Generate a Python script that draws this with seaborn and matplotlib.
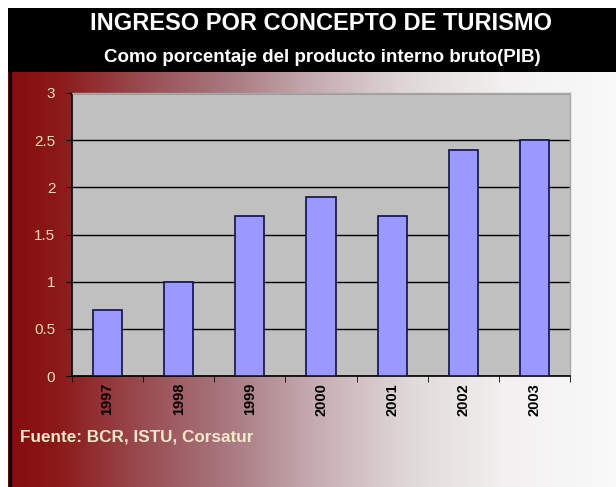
import matplotlib
matplotlib.use("Agg")
import matplotlib.pyplot as plt
from matplotlib.colors import LinearSegmentedColormap
import seaborn as sns
import numpy as np
import pandas as pd

years = ["1997", "1998", "1999", "2000", "2001", "2002", "2003"]
pct_pib = [0.7, 1.0, 1.7, 1.9, 1.7, 2.4, 2.5]
y_ticks = [0, 0.5, 1, 1.5, 2, 2.5, 3]
y_labels = ["0", "0.5", "1", "1.5", "2", "2.5", "3"]

title = "INGRESO POR CONCEPTO DE TURISMO"
subtitle = "Como porcentaje del producto interno bruto(PIB)"
source = "Fuente: BCR, ISTU, Corsatur"

sns.set_style("white")
plt.rcParams["font.family"] = ["Liberation Sans", "DejaVu Sans"]

W, H = 616, 487
fig = plt.figure(figsize=(W / 100, H / 100), dpi=100)
fig.patch.set_facecolor("white")

# background: black header band + red-to-white gradient
grad = LinearSegmentedColormap.from_list("bg", [
    (0.00, (0.52, 0.05, 0.05)),
    (0.08, (0.55, 0.10, 0.10)),
    (0.22, (0.60, 0.30, 0.32)),
    (0.36, (0.66, 0.47, 0.50)),
    (0.50, (0.77, 0.67, 0.69)),
    (0.66, (0.88, 0.85, 0.85)),
    (0.82, (0.95, 0.94, 0.94)),
    (1.00, (0.98, 0.98, 0.98)),
])
bg = fig.add_axes([8 / W, 0, 1 - 8 / W, (H - 72) / H])
bg.imshow(np.linspace(0, 1, 300)[None, :], cmap=grad, aspect="auto",
          extent=[0, 1, 0, 1])
bg.axvline(0.003, color="black", lw=2.5)
bg.set_axis_off()

hdr = fig.add_axes([8 / W, (H - 72) / H, 1 - 8 / W, 64 / H])
hdr.set_facecolor("black")
hdr.set_xticks([])
hdr.set_yticks([])
for s in hdr.spines.values():
    s.set_visible(False)

fig.text(321 / W, 1 - 24 / H, title, color="white", fontsize=17,
         fontweight="bold", ha="center", va="center")
fig.text(322 / W, 1 - 57 / H, subtitle, color="white", fontsize=13.5,
         fontweight="bold", ha="center", va="center")

# plot area
ax = fig.add_axes([72 / W, (H - 376) / H, (570 - 72) / W, (376 - 93) / H])
ax.set_facecolor("#C0C0C0")
df = pd.DataFrame({"year": years, "pct": pct_pib})
sns.barplot(data=df, x="year", y="pct", color="#9999FF", edgecolor="#10104a",
            linewidth=1.2, width=0.41, saturation=1, ax=ax, zorder=3)

ax.set_ylim(0, 3)
ax.set_xlim(-0.5, len(years) - 0.5)
ax.set_yticks(y_ticks)
ax.set_yticklabels(y_labels, color="#F0D9B0", fontsize=11)
ax.yaxis.grid(True, color="black", lw=1)
ax.set_axisbelow(True)
ax.set_xticks(range(len(years)))
ax.set_xticklabels(years, rotation=90, fontsize=10.5, fontweight="bold",
                   color="black")
ax.tick_params(axis="x", which="major", length=0, pad=5)
ax.set_xticks(np.arange(-0.5, len(years), 1), minor=True)
ax.tick_params(axis="x", which="minor", length=4, direction="out",
               color="black", bottom=True)
ax.tick_params(axis="y", length=4, direction="out", color="black",
               left=True, pad=8)
ax.set_xlabel("")
ax.set_ylabel("")
for side in ["left", "bottom"]:
    ax.spines[side].set_color("black")
    ax.spines[side].set_linewidth(1.2)
for side in ["top", "right"]:
    ax.spines[side].set_color("#a8a8a8")
    ax.spines[side].set_linewidth(1)

fig.text(20 / W, 1 - 437 / H, source, color="#F7E8CC", fontsize=12.3,
         fontweight="bold", ha="left", va="center")

fig.savefig("out.png", dpi=100)
